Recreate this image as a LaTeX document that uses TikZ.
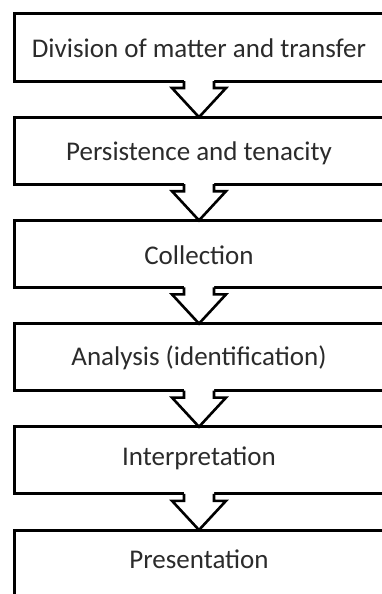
\documentclass[tikz,border=0pt]{standalone}
\usepackage{fontspec}
\setmainfont{Carlito}
\usetikzlibrary{calc}
\definecolor{txt}{HTML}{2B2B2B}
\tikzset{
  stepbox/.style={draw=black, line width=3pt, fill=white, outer sep=0pt,
    minimum width=370pt, minimum height=67pt, inner sep=0pt, text depth=1pt,
    font=\fontsize{27}{31}\selectfont, text=txt},
  off/.style={text height=#1},
  blockarrow/.style={draw=black, line width=2.6pt, line join=miter}
}
\newcommand{\downarrowbetween}[2]{%
  \fill[white] ($(#1.south)+(-15,-2)$) -- ($(#1.south)+(-15,7)$) -- ($(#1.south)+(-27,7)$)
     -- (#2.north) -- ($(#1.south)+(27,7)$) -- ($(#1.south)+(15,7)$) -- ($(#1.south)+(15,-2)$) -- cycle;
  \draw[blockarrow] ($(#1.south)+(-15,0)$) -- ($(#1.south)+(-15,7)$) -- ($(#1.south)+(-27,7)$)
     -- (#2.north) -- ($(#1.south)+(27,7)$) -- ($(#1.south)+(15,7)$) -- ($(#1.south)+(15,0)$);
}
\begin{document}
\begin{tikzpicture}[x=1pt,y=-1pt]
\useasboundingbox (0,0) rectangle (382,594);
\clip (0,0) rectangle (382,594);
\fill[white] (0,0) rectangle (382,594);
\node[stepbox, off=22pt] (b1) at (199,47.5) {Division of matter and transfer};
\node[stepbox, off=19.6pt] (b2) at (199,150.7) {Persistence and tenacity};
\node[stepbox, off=21.2pt] (b3) at (199,253.9) {Collection};
\node[stepbox, off=16.8pt] (b4) at (199,357.1) {Analysis (identification)};
\node[stepbox, off=10.4pt] (b5) at (199,460.3) {Interpretation};
\node[stepbox, off=10pt] (b6) at (199,563.5) {Presentation};
\downarrowbetween{b1}{b2}
\downarrowbetween{b2}{b3}
\downarrowbetween{b3}{b4}
\downarrowbetween{b4}{b5}
\downarrowbetween{b5}{b6}
\end{tikzpicture}
\end{document}
